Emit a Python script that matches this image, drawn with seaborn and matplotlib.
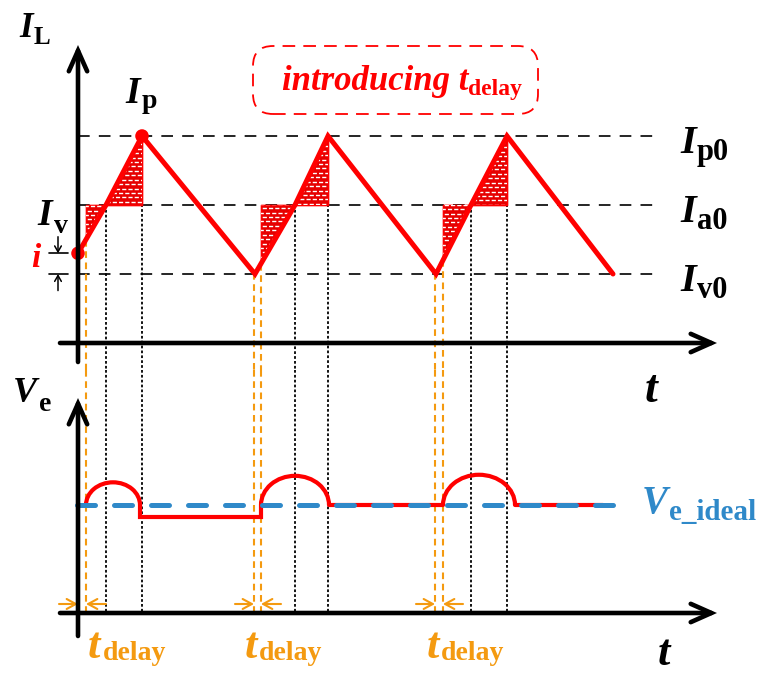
import numpy as np
import matplotlib
matplotlib.use("Agg")
import matplotlib.pyplot as plt
import seaborn as sns
from matplotlib.patches import Arc, FancyBboxPatch

sns.set_theme(style="white")
plt.rcParams["font.family"] = ["Liberation Serif", "DejaVu Serif"]

# ---------------- data ----------------
# inductor current: vertices of the piecewise-linear waveform
t_wave = [0.0, 2.8, 6.4, 17.7, 21.7, 25.0, 35.8, 39.3, 42.9, 53.5]
i_wave = [1.30, 2.0, 3.0, 1.0, 2.0, 3.0, 1.0, 2.0, 3.0, 1.0]

# reference levels
I_p0, I_a0, I_v0 = 3.0, 2.0, 1.0
level_values = [I_p0, I_a0, I_v0]
level_subs = ["p0", "a0", "v0"]

# switching instants of each cycle
t_sample = [0.0, 17.6, 35.7]      # valley / sampling instant
t_delay_end = [0.8, 18.3, 36.5]   # end of the introduced delay
t_cross = [2.8, 21.7, 39.3]       # current passes I_a0
t_peak = [6.4, 25.0, 42.9]        # current reaches I_p0

# control voltage V_e
Ve_ideal = 1.0
bump_end = [6.2, 25.1, 43.7]
bump_height = [0.21, 0.27, 0.28]
Ve_dip = 0.89
t_ve_stop = 52.5
t_ideal = [-0.1, 54.4]

# ---------------- layout ----------------
W, H = 757, 675
X0, XS = 78, 10.0          # pixel of t = 0, pixels per time unit
SPLIT = 370                # pixel row separating the two panels
YI0, IS = 343, 69.0        # current panel: pixel row of I = 0, pixels per unit
YV0, VS = 613, 108.0       # voltage panel: pixel row of V = 0, pixels per unit

RED = "#FF0000"
ORANGE = "#F49A10"
BLUE = "#2F89C9"
BLACK = "#000000"
PX = 100 / 72              # pixels per point

fig = plt.figure(figsize=(W / 100, H / 100), dpi=100)
ax1 = fig.add_axes([0, (H - SPLIT) / H, 1, SPLIT / H])
ax2 = fig.add_axes([0, 0, 1, (H - SPLIT) / H])
for ax in (ax1, ax2):
    ax.set_xlim(-X0 / XS, (W - X0) / XS)
    ax.set_axis_off()
ax1.set_ylim((YI0 - SPLIT) / IS, YI0 / IS)
ax2.set_ylim((YV0 - H) / VS, (YV0 - SPLIT) / VS)
ylo1 = ax1.get_ylim()[0]
yhi2 = ax2.get_ylim()[1]


def symbol(ax, x, y, main, sub, size, sub_size, color=BLACK, dx=0.0, drop=6.0):
    """Bold italic symbol with an upright bold subscript; drop in pixels."""
    t = ax.text(x, y, main, fontsize=size, color=color, ha="left", va="baseline",
                fontstyle="italic", fontweight="bold")
    if sub:
        desc = 0.216 * size * PX
        ax.annotate(sub, xy=(1, 0), xycoords=t, xytext=(dx, desc - drop),
                    textcoords="offset pixels", fontsize=sub_size, color=color,
                    fontweight="bold", ha="left", va="baseline")
    return t


AX_LW = 3.3
def axis_arrow(ax, start, end):
    ax.annotate("", xy=end, xytext=start, zorder=10,
                arrowprops=dict(arrowstyle="->,head_length=1.35,head_width=0.6",
                                lw=AX_LW, color=BLACK, shrinkA=0, shrinkB=0,
                                mutation_scale=11, capstyle="round",
                                joinstyle="miter"))

# axes of both panels
axis_arrow(ax1, (0, (YI0 - 362) / IS), (0, (YI0 - 45) / IS))
axis_arrow(ax1, (-1.8, 0), (63.9, 0))
axis_arrow(ax2, (0, (YV0 - 636) / VS), (0, (YV0 - 398) / VS))
axis_arrow(ax2, (-1.8, 0), (63.9, 0))

# dashed reference levels
for lv, sub in zip(level_values, level_subs):
    ax1.plot([0, 57.7], [lv, lv], color=BLACK, lw=1.2, ls=(0, (7, 5.5)), zorder=1)
    symbol(ax1, 60.2, lv - 0.25, "I", sub, 29, 22, dx=1, drop=6)

# vertical guides through both panels
DOT = (0, (1.5, 1.2))
DASH_O = (0, (3.2, 2.2))
for k in range(3):
    for tt, lv in ((t_cross[k], I_a0), (t_peak[k], I_p0)):
        ax1.plot([tt, tt], [lv, ylo1], color=BLACK, lw=1.3, ls=DOT, zorder=1)
        ax2.plot([tt, tt], [yhi2, 0], color=BLACK, lw=1.3, ls=DOT, zorder=1)
    for tt in (t_sample[k], t_delay_end[k]):
        if tt <= 0:
            continue
        lv = np.interp(tt, t_wave, i_wave)
        ax1.plot([tt, tt], [lv, ylo1], color=ORANGE, lw=1.5, ls=DASH_O, zorder=1)
        ax2.plot([tt, tt], [yhi2, 0], color=ORANGE, lw=1.5, ls=DASH_O, zorder=1)

# shaded charge regions with a white brick texture
for k in range(3):
    ts = [t_delay_end[k], t_cross[k], t_peak[k]]
    ys = np.interp(ts, t_wave, i_wave)
    coll = ax1.fill_between(ts, I_a0, ys, facecolor="#E60000", edgecolor=RED,
                            lw=1.2, zorder=2)
    path = coll.get_paths()[0]
    ymin, ymax = min(ys.min(), I_a0), max(ys.max(), I_a0)
    for j, yy in enumerate(np.arange(ymin + 0.035, ymax, 0.064)):
        ln, = ax1.plot([ts[0] - 0.5, ts[-1] + 0.5], [yy, yy], color="white", lw=1.0,
                       ls=(2.2 if j % 2 else 0, (3.0, 1.5)), zorder=2.5,
                       solid_capstyle="butt")
        ln.set_clip_path(path, coll.get_transform())

# inductor current waveform
sns.lineplot(x=t_wave, y=i_wave, ax=ax1, color=RED, linewidth=3.6, sort=False,
             estimator=None, legend=False, zorder=3)
ax1.lines[-1].set_solid_capstyle("round")
ax1.lines[-1].set_solid_joinstyle("miter")
sns.scatterplot(x=[t_wave[0], t_peak[0]], y=[i_wave[0], I_p0], ax=ax1, s=95,
                color=RED, edgecolor="none", zorder=4, legend=False)

# offset i between the start point and I_v0
i_start = i_wave[0]
for lv in (i_start, I_v0):
    ax1.plot([-2.9, -1.0], [lv, lv], color=BLACK, lw=1.2, zorder=3)
small_head = dict(arrowstyle="->,head_length=0.35,head_width=0.2",
                  lw=1.1, color=BLACK, shrinkA=0, shrinkB=0)
ax1.annotate("", xy=(-2.0, i_start), xytext=(-2.0, i_start + 0.24), arrowprops=small_head)
ax1.annotate("", xy=(-2.0, I_v0), xytext=(-2.0, I_v0 - 0.24), arrowprops=small_head)
symbol(ax1, -4.7, (YI0 - 267) / IS, "i", "", 24, 0, color=RED)

# current-panel labels
symbol(ax1, -5.9, (YI0 - 37) / IS, "I", "L", 25, 18, dx=1, drop=7)
symbol(ax1, 4.7, (YI0 - 103) / IS, "I", "p", 27, 20, dx=2, drop=5)
symbol(ax1, -4.1, (YI0 - 225) / IS, "I", "v", 27, 20, dx=2, drop=8)
symbol(ax1, 56.7, (YI0 - 402) / IS, "t", "", 33, 0)

# annotation box
symbol(ax1, 20.4, (YI0 - 90) / IS, "introducing t", "delay", 25, 17, color=RED,
       dx=0, drop=5)
box = FancyBboxPatch((2.53, (H - 114) / 100), 2.85, 0.68,
                     boxstyle="round,pad=0,rounding_size=0.2",
                     transform=fig.dpi_scale_trans, fill=False, edgecolor=RED,
                     lw=1.3, ls=(0, (7, 4.5)))
fig.add_artist(box)

# control voltage: bumps above the ideal level, dip after the first peak
ve_kw = dict(color=RED, lw=3.0, zorder=3)
for s, e, h in zip(t_delay_end, bump_end, bump_height):
    ax2.add_patch(Arc(((s + e) / 2, Ve_ideal), e - s, 2 * h, theta1=0, theta2=180,
                      edgecolor=RED, lw=3.0, zorder=3))
ax2.plot([bump_end[0], bump_end[0], t_delay_end[1], t_delay_end[1]],
         [Ve_ideal, Ve_dip, Ve_dip, Ve_ideal], solid_joinstyle="miter", **ve_kw)
ax2.plot([bump_end[1], t_delay_end[2]], [Ve_ideal, Ve_ideal], **ve_kw)
ax2.plot([bump_end[2], t_ve_stop], [Ve_ideal, Ve_ideal], **ve_kw)

# ideal control voltage
ax2.plot(t_ideal, [Ve_ideal, Ve_ideal], color=BLUE, lw=3.6, ls=(0, (3.6, 3.8)),
         dash_capstyle="round", zorder=4)

# delay markers on the time axis
yarr = (YV0 - 604) / VS
for k in range(3):
    left = t_sample[k]
    right = t_delay_end[k]
    for a, b in ((left - 1.9, left), (right + 2.0, right)):
        ax2.annotate("", xy=(b, yarr), xytext=(a, yarr),
                     arrowprops=dict(arrowstyle="->,head_length=0.55,head_width=0.3",
                                     lw=1.5, color=ORANGE, shrinkA=0, shrinkB=0))
label_x = [1.0, 16.7, 34.9]
for lx in label_x:
    symbol(ax2, lx, (YV0 - 658) / VS, "t", "delay", 32, 20, color=ORANGE, dx=2, drop=3)

# voltage-panel labels
symbol(ax2, -6.5, (YV0 - 402) / VS, "V", "e", 26, 20, dx=2, drop=9)
symbol(ax2, 56.4, (YV0 - 513) / VS, "V", "e_ideal", 28, 21, color=BLUE, dx=1, drop=6)
symbol(ax2, 58.0, (YV0 - 665) / VS, "t", "", 32, 0)

fig.savefig("out.png", dpi=100)
